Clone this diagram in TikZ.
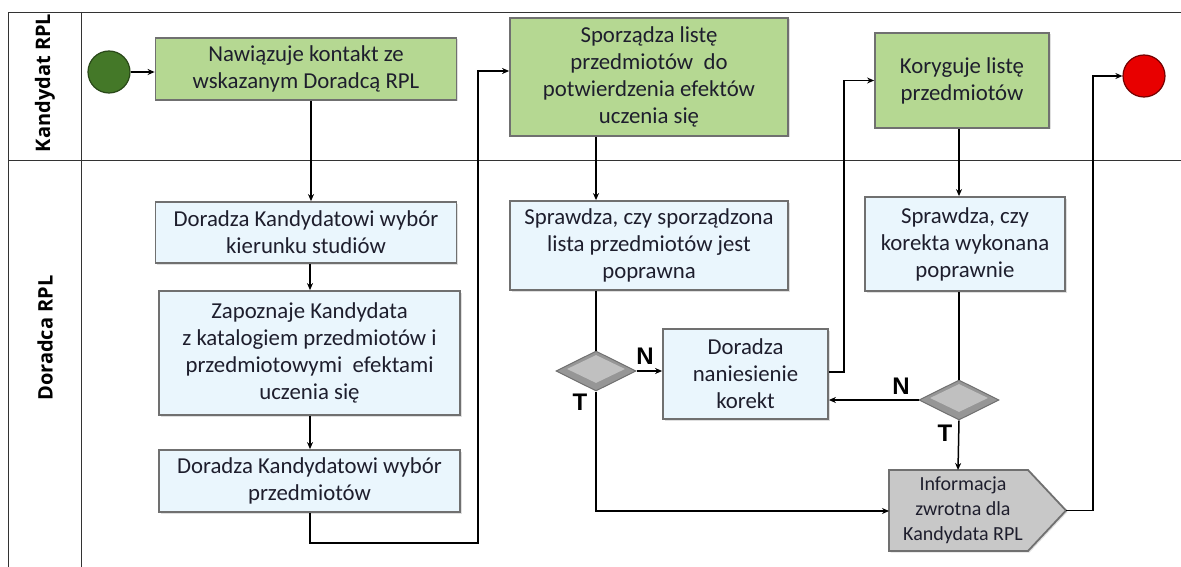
\documentclass[tikz,border=0pt]{standalone}
\usepackage{fontspec}
\setmainfont{Carlito}
\newfontfamily\lanefont{Open Sans}
\newfontfamily\tnfont{Liberation Sans}
\usepackage{tikz}
\usetikzlibrary{arrows.meta,shapes.geometric,shadows}

\definecolor{actgreen}{RGB}{181,216,146}
\definecolor{actblue}{RGB}{234,246,253}
\definecolor{actedge}{RGB}{112,112,112}
\definecolor{gwgray}{RGB}{150,150,150}
\definecolor{gwlight}{RGB}{192,192,192}
\definecolor{infogray}{RGB}{200,200,200}
\definecolor{startgreen}{RGB}{68,120,40}
\definecolor{stopred}{RGB}{232,0,0}
\definecolor{txtdark}{RGB}{30,30,45}

\tikzset{
  box/.style={rectangle, draw=actedge, line width=1.8pt, inner sep=0pt, align=center,
    text=txtdark, font=\fontsize{22.8}{27}\selectfont,
    drop shadow={shadow xshift=1.5pt, shadow yshift=-1.5pt, opacity=0.25}},
  cand/.style={box, fill=actgreen},
  adv/.style={box, fill=actblue},
  event/.style={circle, inner sep=0pt, minimum size=42pt, line width=1.2pt},
  gate/.style={diamond, draw=actedge, fill=gwgray, line width=1pt, inner sep=0pt,
    minimum width=80pt, minimum height=40pt},
  gatetop/.style={diamond, fill=gwlight, inner sep=0pt, minimum width=58pt, minimum height=28pt},
  flow/.style={line width=1.5pt, -{Stealth[length=7pt,width=6pt]}},
  link/.style={line width=1.5pt},
  tn/.style={font=\tnfont\bfseries\fontsize{24}{24}\selectfont},
  lane/.style={draw=black!80, line width=0.8pt},
  lanelabel/.style={rotate=90, font=\lanefont\bfseries\fontsize{20}{20}\selectfont},
}

\begin{document}
\begin{tikzpicture}[x=1pt, y=-1pt]
\useasboundingbox (0,0) rectangle (1181,567);

%Lanes
\draw[lane] (8,567) -- (8,12) -- (1181,12);
\draw[lane] (81,12) -- (81,567);
\draw[lane] (8,160) -- (1181,160);
\node[lanelabel] (lanecand) at (45,83) {Kandydat RPL};
\node[lanelabel] (laneadv) at (45,338) {Doradca RPL};

%Events
\node[event, fill=startgreen, draw=startgreen!60!black] (start) at (109,72) {};
\node[event, fill=stopred, draw=stopred!50!black] (stop) at (1144,76) {};

%Kandydat tasks
\node[cand, minimum width=301pt, minimum height=62pt] (nawiazuje) at (306,69)
  {Nawiązuje kontakt ze\\wskazanym Doradcą RPL};
\node[cand, minimum width=278pt, minimum height=118pt] (sporzadza) at (649,77)
  {Sporządza listę\\przedmiotów\ \ do\\potwierdzenia efektów\\uczenia się};
\node[cand, minimum width=174pt, minimum height=95pt] (koryguje) at (962,80.5)
  {Koryguje listę\\przedmiotów};

%Doradca tasks
\node[adv, minimum width=301pt, minimum height=61pt] (kierunek) at (306,232.5)
  {Doradza Kandydatowi wybór\\kierunku studiów};
\node[adv, minimum width=301pt, minimum height=124pt] (zapoznaje) at (309.5,353)
  {Zapoznaje Kandydata\\z katalogiem przedmiotów i\\przedmiotowymi\ \ efektami\\uczenia się};
\node[adv, minimum width=301pt, minimum height=62pt] (przedmioty) at (309.5,481)
  {Doradza Kandydatowi wybór\\przedmiotów};
\node[adv, minimum width=278pt, minimum height=89pt] (sprawdzalista) at (649,245.5)
  {Sprawdza, czy sporządzona\\lista przedmiotów jest\\poprawna};
\node[adv, minimum width=200pt, minimum height=94pt] (sprawdzakorekta) at (965,244)
  {Sprawdza, czy\\korekta wykonana\\poprawnie};
\node[adv, minimum width=165pt, minimum height=90pt] (naniesienie) at (745.5,374)
  {Doradza\\naniesienie\\korekt};

%Gateways
\node[gate] (gatelista) at (596,371) {};
\node[gatetop] (gatelistatop) at (596,369) {};
\node[gate] (gatekorekta) at (959,400) {};
\node[gatetop] (gatekorektatop) at (959,398) {};

%Feedback
\draw[draw=actedge, fill=infogray, line width=1.8pt,
  drop shadow={shadow xshift=1.5pt, shadow yshift=-1.5pt, opacity=0.25}]
  (889,470) -- (1028,470) -- (1066,510.5) -- (1028,551) -- (889,551) -- cycle;
\node[align=center, text=txtdark, font=\fontsize{20}{25}\selectfont] (info) at (963,510)
  {Informacja\\zwrotna dla\\Kandydata RPL};
\coordinate (infotop) at (958,470);
\coordinate (infoleft) at (889,511);
\coordinate (infotip) at (1066,510.5);
\coordinate (backup) at (478,543);

%Flows
\draw[flow] (start.east) -- (start.east -| nawiazuje.west);
\draw[flow] (nawiazuje.south -| 311,0) -- (kierunek.north -| 311,0);
\draw[flow] (kierunek.south -| 310,0) -- (zapoznaje.north -| 310,0);
\draw[flow] (zapoznaje.south -| 310,0) -- (przedmioty.north -| 310,0);
\draw[flow] (przedmioty.south -| 310,0) |- (backup) |- ([yshift=6pt]sporzadza.west);
\draw[flow] (sporzadza.south -| gatelista) -- (sprawdzalista.north -| gatelista);
\draw[link] (sprawdzalista.south -| gatelista) -- (gatelista.north);
\draw[flow] (gatelista.east) -- (gatelista.east -| naniesienie.west);
\draw[flow] (gatelista.south) |- (infoleft);
\draw[flow] ([yshift=2pt]naniesienie.east) -- ++(15,0) |- (koryguje.west);
\draw[flow] (koryguje.south -| gatekorekta) -- (sprawdzakorekta.north -| gatekorekta);
\draw[link] (sprawdzakorekta.south -| gatekorekta) -- (gatekorekta.north);
\draw[flow] (gatekorekta.west) -- (gatekorekta.west -| naniesienie.east);
\draw[flow] (gatekorekta.south) -- (infotop);
\draw[flow] (infotip) -- ++(27,0) |- (stop.west);

%Labels
\node[tn] (nlista) at (645,356) {N};
\node[tn] (tlista) at (580,402) {T};
\node[tn] (nkorekta) at (901,386) {N};
\node[tn] (tkorekta) at (945,433) {T};

\end{tikzpicture}
\end{document}
